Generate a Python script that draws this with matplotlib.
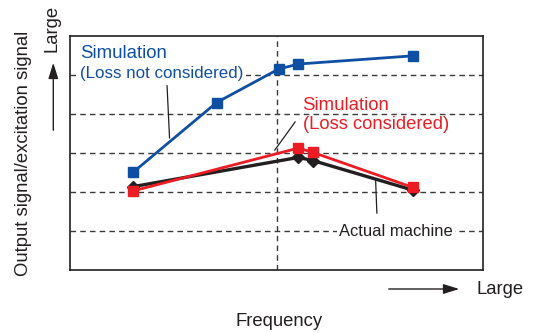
import matplotlib
matplotlib.use("Agg")
import matplotlib.pyplot as plt
from matplotlib.patches import FancyArrowPatch

plt.rcParams['font.family'] = ['Liberation Sans', 'DejaVu Sans']

# Data (arbitrary units)
freq_blue = [1.53, 3.55, 5.05, 5.53, 8.3]
val_blue = [2.50, 4.29, 5.15, 5.28, 5.49]
freq_red = [1.53, 5.53, 5.88, 8.3]
val_red = [2.02, 3.12, 3.01, 2.11]
freq_black = [1.53, 5.53, 5.88, 8.3]
val_black = [2.13, 2.88, 2.80, 2.04]
grid_levels = [1, 2, 3, 4, 5]
vline_pos = 5.0

BLUE = '#0f4fa3'
RED = '#ec1c24'
BLACK = '#231f20'
GRID = '#3a3a3a'
FS = 13.3

W, H = 533, 333
fig = plt.figure(figsize=(W / 100, H / 100), dpi=100)
ax = fig.add_axes([70 / W, 1 - 269.5 / H, 413 / W, 233.5 / H])
ax.set_xlim(0, 10)
ax.set_ylim(0, 6)
ax.set_xticks([])
ax.set_yticks([])
for s in ax.spines.values():
    s.set_color(BLACK)
    s.set_linewidth(1.2)

for g in grid_levels:
    ax.axhline(g, color=GRID, lw=1.0, dashes=(4, 3), zorder=1)
ax.axvline(vline_pos, color=GRID, lw=1.0, dashes=(4, 3), zorder=1)

ax.plot(freq_blue, val_blue, color=BLUE, lw=2.0, marker='s', ms=7.5,
        mec=BLUE, mfc=BLUE, zorder=4)
ax.plot(freq_black, val_black, color=BLACK, lw=2.4, marker='D', ms=6,
        mec=BLACK, mfc=BLACK, zorder=5)
ax.plot(freq_red, val_red, color=RED, lw=2.0, marker='s', ms=7.5,
        mec=RED, mfc=RED, zorder=6)

bb = dict(facecolor='white', edgecolor='none', pad=1.5)
ax.text(0.25, 5.44, 'Simulation', color=BLUE, fontsize=13.4, va='baseline',
        ha='left', zorder=2)
ax.text(0.25, 4.92, '(Loss not considered)', color=BLUE, fontsize=12.2,
        va='baseline', ha='left', bbox=bb, zorder=2)
ax.text(5.61, 4.10, 'Simulation', color=RED, fontsize=13.4, va='baseline',
        ha='left', zorder=2)
ax.text(5.63, 3.62, '(Loss considered)', color=RED, fontsize=13.2,
        va='baseline', ha='left', zorder=2)
ax.text(6.52, 0.85, 'Actual machine', color=BLACK, fontsize=11.9,
        va='baseline', ha='left', bbox=bb, zorder=2)

# leader lines
ax.plot([2.35, 2.41], [4.72, 3.38], color=BLACK, lw=0.9, zorder=3)
ax.plot([5.45, 4.96], [3.79, 3.07], color=BLACK, lw=0.9, zorder=3)
ax.plot([7.40, 7.43], [2.30, 1.45], color=BLACK, lw=0.9, zorder=3)


def fx(px):
    return px / W


def fy(py):
    return 1 - py / H


fig.text(fx(24), fy(153), 'Output signal/excitation signal', rotation=90,
         ha='center', va='center', fontsize=FS, color=BLACK)
fig.text(fx(52.5), fy(28.5), 'Large', rotation=90, ha='center', va='center',
         fontsize=FS, color=BLACK)
fig.text(fx(279), fy(321), 'Frequency', ha='center', va='center',
         fontsize=FS, color=BLACK)
fig.text(fx(476), fy(289.5), 'Large', ha='left', va='center',
         fontsize=FS, color=BLACK)

style = '-|>,head_length=0.8,head_width=0.25'
fig.add_artist(FancyArrowPatch(
    (fx(53.3), fy(133)), (fx(53.3), fy(60)), transform=fig.transFigure,
    arrowstyle=style, color=BLACK, lw=1.0, mutation_scale=12))
fig.add_artist(FancyArrowPatch(
    (fx(386), fy(289)), (fx(462), fy(289)), transform=fig.transFigure,
    arrowstyle=style, color=BLACK, lw=1.0, mutation_scale=12))

fig.savefig('out.png', dpi=100)
